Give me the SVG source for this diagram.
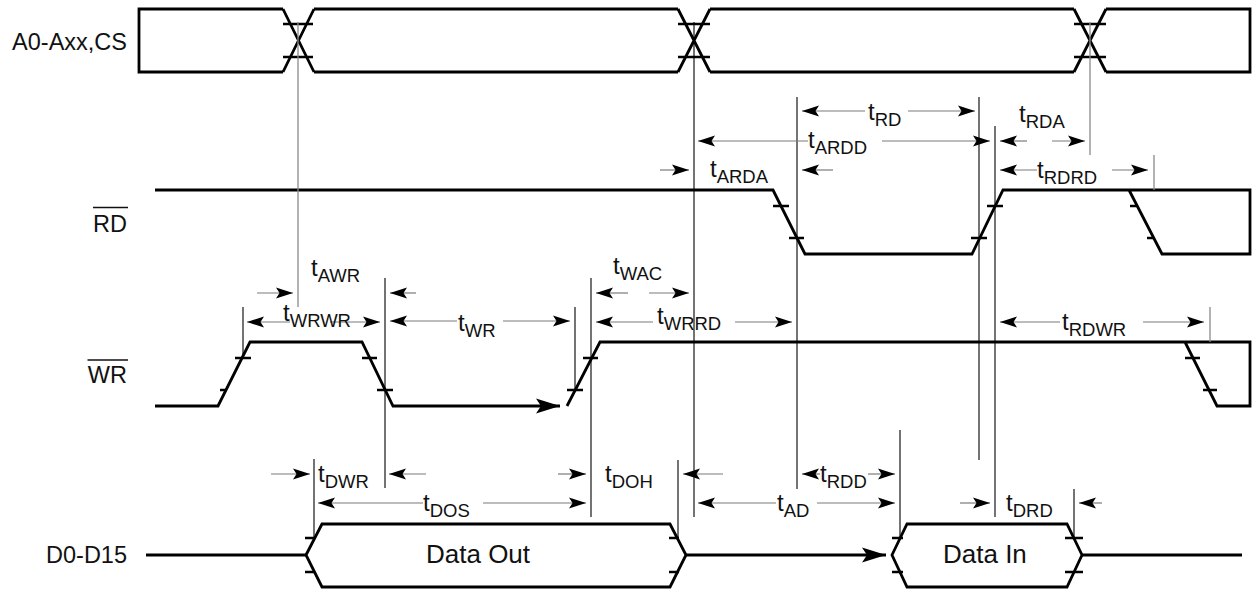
<svg xmlns="http://www.w3.org/2000/svg" width="1252" height="591" viewBox="0 0 1252 591">
<style>
.sig{fill:none;stroke:#000;stroke-width:2.8;stroke-linejoin:miter}
.tick{stroke:#000;stroke-width:2.6}
.vb{stroke:#000;stroke-width:1.1}
.vg{stroke:#8a8a8a;stroke-width:1.3}
.ar{stroke:#7a7a7a;stroke-width:1.2;marker-end:url(#ah)}
.lbl{font-family:"Liberation Sans",Arial,sans-serif;font-size:23.5px;fill:#111}
.tl{font-family:"Liberation Sans",Arial,sans-serif;font-size:24px;fill:#111}
.sub{font-size:18.5px}
.big{font-family:"Liberation Sans",Arial,sans-serif;font-size:26px;fill:#111}
</style>
<defs>
<marker id="ah" markerUnits="userSpaceOnUse" markerWidth="20" markerHeight="14" refX="17" refY="7" orient="auto">
<path d="M0,1.5 L17,7 L0,12.5 L3.5,7 Z" fill="#000"/>
</marker>
<marker id="bah" markerUnits="userSpaceOnUse" markerWidth="28" markerHeight="18" refX="24" refY="9" orient="auto">
<path d="M0,1.5 L24,9 L0,16.5 L5,9 Z" fill="#000"/>
</marker>
</defs>

<g id="labels">
<text class="lbl" x="127" y="50" text-anchor="end">A0-Axx,CS</text>
<text class="lbl" x="127" y="232" text-anchor="end">RD</text>
<line x1="93" y1="207.5" x2="128" y2="207.5" stroke="#111" stroke-width="1.6"/>
<text class="lbl" x="127" y="383" text-anchor="end">WR</text>
<line x1="87.5" y1="360" x2="128" y2="360" stroke="#111" stroke-width="1.6"/>
<text class="lbl" x="127" y="563" text-anchor="end">D0-D15</text>
</g>

<g id="addr">
<path class="sig" d="M283,9 L139,9 L139,72 L283,72"/>
<path class="sig" d="M283,9 L314,72 M283,72 L314,9"/>
<path class="sig" d="M314,9 L678,9 M314,72 L678,72"/>
<path class="sig" d="M678,9 L710,72 M678,72 L710,9"/>
<path class="sig" d="M710,9 L1074,9 M710,72 L1074,72"/>
<path class="sig" d="M1074,9 L1106,72 M1074,72 L1106,9"/>
<path class="sig" d="M1106,9 L1250,9 L1250,72 L1106,72"/>
<path class="tick" d="M283,24 H313 M283,57 H313 M678,24 H710 M678,57 H710 M1074,24 H1106 M1074,57 H1106"/>
</g>

<g id="rd">
<path class="sig" d="M155,190 L773,190 L805,254 L972,254 L1003,190 L1250,190 L1250,254 L1162,254 L1129,190"/>
<path class="tick" d="M773,206 H789 M789,238 H804 M971,238 H987 M987,206 H1003 M1130,206 H1137 M1147,238 H1154"/>
</g>

<g id="wr">
<path class="sig" d="M155,406 L218,406 L250,342 L362,342 L393,406 L560,406" marker-end="url(#bah)"/>
<path class="sig" d="M567,406 L600,342 L1250,342 L1250,406 L1217,406 L1185,342"/>
<path class="tick" d="M220,390 H227 M235,358 H251 M362,358 H377 M377,390 H393 M567,390 H583 M583,358 H598 M1185,358 H1200 M1203,390 H1217"/>
</g>

<g id="data">
<path class="sig" d="M146,555 L306,555"/>
<path class="sig" d="M306,555 L322,524 L670,524 L686,555 L670,587 L322,587 Z"/>
<path class="sig" d="M686,555 L886,555" marker-end="url(#bah)"/>
<path class="sig" d="M892,555 L907,524 L1067,524 L1082,555 L1067,587 L907,587 Z"/>
<path class="sig" d="M1082,555 L1242,555"/>
<path class="tick" d="M305,538 H315 M305,572 H315 M669,538 H679 M669,572 H679 M892,538 H903 M892,572 H903 M1065,538 H1083 M1065,572 H1083"/>
<text class="big" x="426" y="563">Data Out</text>
<text class="big" x="943" y="563">Data In</text>
</g>

<g id="connectors">
<line class="vg" x1="298" y1="22" x2="298" y2="307"/>
<line class="vb" x1="694" y1="22" x2="694" y2="517"/>
<line class="vg" x1="1090" y1="22" x2="1090" y2="155"/>
<line class="vb" x1="797" y1="97" x2="797" y2="489"/>
<line class="vb" x1="979" y1="97" x2="979" y2="460"/>
<line class="vb" x1="995" y1="126" x2="995" y2="517"/>
<line class="vg" x1="1154" y1="155" x2="1154" y2="190"/>
<line class="vb" x1="243" y1="307" x2="243" y2="358"/>
<line class="vb" x1="385" y1="278" x2="385" y2="488"/>
<line class="vb" x1="575" y1="307" x2="575" y2="390"/>
<line class="vb" x1="591" y1="278" x2="591" y2="517"/>
<line class="vg" x1="1210" y1="307" x2="1210" y2="342"/>
<line class="vb" x1="900" y1="430" x2="900" y2="538"/>
<line class="vb" x1="314" y1="459" x2="314" y2="540"/>
<line class="vb" x1="678" y1="460" x2="678" y2="540"/>
<line class="vb" x1="1074" y1="489" x2="1074" y2="538"/>

<line class="ar" x1="865" y1="111" x2="802" y2="111"/>
<line class="ar" x1="908" y1="111" x2="975" y2="111"/>
<line class="ar" x1="808" y1="141" x2="698" y2="141"/>
<line class="ar" x1="882" y1="141" x2="990" y2="141"/>
<line class="ar" x1="660" y1="170" x2="689" y2="170"/>
<line class="ar" x1="833" y1="170" x2="802" y2="170"/>
<line class="ar" x1="1027" y1="141" x2="1000" y2="141"/>
<line class="ar" x1="1052" y1="141" x2="1085" y2="141"/>
<line class="ar" x1="1037" y1="170" x2="1000" y2="170"/>
<line class="ar" x1="1112" y1="170" x2="1148" y2="170"/>
<line class="ar" x1="257" y1="293" x2="293" y2="293"/>
<line class="ar" x1="416" y1="293" x2="390" y2="293"/>
<line class="ar" x1="290" y1="322" x2="247" y2="322"/>
<line class="ar" x1="330" y1="322" x2="380" y2="322"/>
<line class="ar" x1="457" y1="321" x2="390" y2="321"/>
<line class="ar" x1="503" y1="321" x2="570" y2="321"/>
<line class="ar" x1="628" y1="293" x2="596" y2="293"/>
<line class="ar" x1="649" y1="293" x2="689" y2="293"/>
<line class="ar" x1="653" y1="322" x2="596" y2="322"/>
<line class="ar" x1="735" y1="322" x2="792" y2="322"/>
<line class="ar" x1="1060" y1="322" x2="1000" y2="322"/>
<line class="ar" x1="1143" y1="322" x2="1204" y2="322"/>
<line class="ar" x1="271" y1="474" x2="310" y2="474"/>
<line class="ar" x1="426" y1="474" x2="389" y2="474"/>
<line class="ar" x1="423" y1="503" x2="318" y2="503"/>
<line class="ar" x1="483" y1="503" x2="586" y2="503"/>
<line class="ar" x1="558" y1="474" x2="586" y2="474"/>
<line class="ar" x1="723" y1="474" x2="683" y2="474"/>
<line class="ar" x1="776" y1="503" x2="698" y2="503"/>
<line class="ar" x1="817" y1="503" x2="895" y2="503"/>
<line class="ar" x1="820" y1="474" x2="802" y2="474"/>
<line class="ar" x1="868" y1="474" x2="895" y2="474"/>
<line class="ar" x1="960" y1="503" x2="990" y2="503"/>
<line class="ar" x1="1102" y1="503" x2="1079" y2="503"/>
</g>

<g id="timing-labels">
<text class="tl" x="868" y="120">t<tspan class="sub" dy="6">RD</tspan></text>
<text class="tl" x="808" y="148">t<tspan class="sub" dy="6">ARDD</tspan></text>
<text class="tl" x="710" y="177">t<tspan class="sub" dy="6">ARDA</tspan></text>
<text class="tl" x="1019" y="122">t<tspan class="sub" dy="6">RDA</tspan></text>
<text class="tl" x="1037" y="178">t<tspan class="sub" dy="6">RDRD</tspan></text>
<text class="tl" x="311" y="276">t<tspan class="sub" dy="6">AWR</tspan></text>
<text class="tl" x="283" y="321">t<tspan class="sub" dy="6">WRWR</tspan></text>
<text class="tl" x="458" y="331">t<tspan class="sub" dy="6">WR</tspan></text>
<text class="tl" x="613" y="274">t<tspan class="sub" dy="6">WAC</tspan></text>
<text class="tl" x="657" y="324">t<tspan class="sub" dy="6">WRRD</tspan></text>
<text class="tl" x="1062" y="330">t<tspan class="sub" dy="6">RDWR</tspan></text>
<text class="tl" x="318" y="482">t<tspan class="sub" dy="6">DWR</tspan></text>
<text class="tl" x="423" y="511">t<tspan class="sub" dy="6">DOS</tspan></text>
<text class="tl" x="605" y="482">t<tspan class="sub" dy="6">DOH</tspan></text>
<text class="tl" x="777" y="511">t<tspan class="sub" dy="6">AD</tspan></text>
<text class="tl" x="820" y="482">t<tspan class="sub" dy="6">RDD</tspan></text>
<text class="tl" x="1006" y="511">t<tspan class="sub" dy="6">DRD</tspan></text>
</g>
</svg>
